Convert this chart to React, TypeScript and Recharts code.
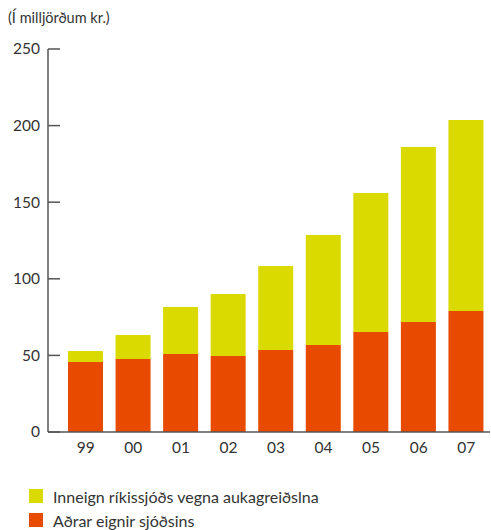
import React from "react";
import { BarChart, Bar, XAxis, YAxis } from "recharts";

const years = ["99", "00", "01", "02", "03", "04", "05", "06", "07"];
const otherAssets = [45.7, 47.6, 50.9, 49.6, 53.5, 56.8, 65.3, 71.8, 79.0];
const treasuryDeposits = [7.2, 15.7, 30.7, 40.5, 54.9, 71.8, 90.7, 114.2, 124.7];
const yTicks = [0, 50, 100, 150, 200, 250];

const seriesNames = {
  treasury: "Inneign ríkissjóðs vegna aukagreiðslna",
  other: "Aðrar eignir sjóðsins",
};

const YELLOW = "#DADA00";
const ORANGE = "#E84A00";
const TEXT = "#333333";
const AXIS = "#555555";
const FONT = "Lato, 'Open Sans', sans-serif";

const data = years.map((y, i) => ({
  year: y,
  other: otherAssets[i],
  treasury: treasuryDeposits[i],
}));

const YTick = (props: any) => {
  const { x, y, payload } = props;
  return (
    <g>
      <line x1={x + 8} x2={x + 20} y1={y} y2={y} stroke={AXIS} strokeWidth={1.5} />
      <text x={x} y={y} dy="0.35em" textAnchor="end" fill={TEXT} fontSize={15.5} fontFamily={FONT}>
        {payload.value}
      </text>
    </g>
  );
};

export default function App() {
  const items = [
    { color: YELLOW, label: seriesNames.treasury },
    { color: ORANGE, label: seriesNames.other },
  ];
  return (
    <div style={{ position: "absolute", left: 0, top: 0, width: 491, height: 530, background: "#fff" }}>
      <div
        style={{
          position: "absolute",
          left: 8,
          top: 9,
          fontFamily: FONT,
          fontSize: 14.5,
          color: TEXT,
        }}
      >
        (Í milljörðum kr.)
      </div>
      <BarChart
        width={491}
        height={530}
        data={data}
        margin={{ top: 49, right: 1, left: 0, bottom: 68 }}
        barSize={35}
      >
        <XAxis
          dataKey="year"
          height={30}
          padding={{ left: 14, right: 0 }}
          tickLine={false}
          axisLine={{ stroke: AXIS, strokeWidth: 1.5 }}
          tick={{ fill: TEXT, fontSize: 15.5, fontFamily: FONT }}
          tickMargin={4}
        />
        <YAxis
          width={48}
          domain={[0, 250]}
          ticks={yTicks}
          interval={0}
          tickLine={false}
          axisLine={{ stroke: AXIS, strokeWidth: 1.5 }}
          tick={<YTick />}
        />
        <Bar dataKey="other" stackId="a" fill={ORANGE} isAnimationActive={false} />
        <Bar dataKey="treasury" stackId="a" fill={YELLOW} isAnimationActive={false} />
      </BarChart>
      <div style={{ position: "absolute", left: 29, top: 484 }}>
        {items.map((it, i) => (
          <div
            key={i}
            style={{ display: "flex", alignItems: "center", height: 24, fontFamily: FONT, fontSize: 16, color: TEXT }}
          >
            <span style={{ display: "inline-block", width: 14, height: 14, background: it.color, marginRight: 10 }} />
            <span>{it.label}</span>
          </div>
        ))}
      </div>
    </div>
  );
}
